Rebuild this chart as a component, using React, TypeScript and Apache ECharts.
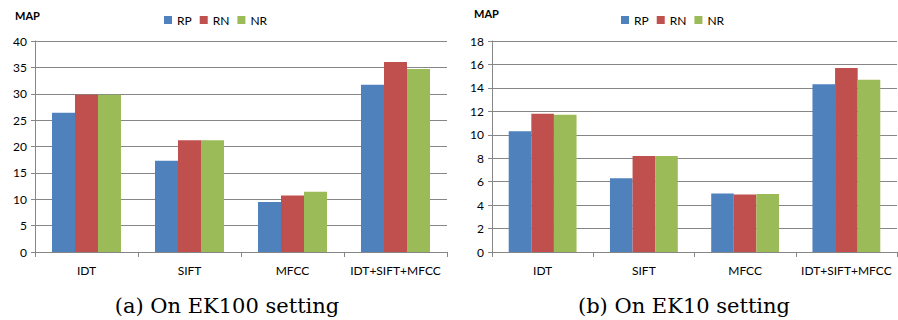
import React, { useEffect, useRef } from "react";
import * as echarts from "echarts";

const categories = ["IDT", "SIFT", "MFCC", "IDT+SIFT+MFCC"];
const seriesNames = ["RP", "RN", "NR"];
const colors = ["#4F81BD", "#C0504D", "#9BBB59"];

// EK100 setting
const ek100RP = [26.4, 17.3, 9.5, 31.7];
const ek100RN = [29.8, 21.2, 10.7, 36.0];
const ek100NR = [29.8, 21.2, 11.4, 34.7];

// EK10 setting
const ek10RP = [10.3, 6.3, 5.0, 14.3];
const ek10RN = [11.8, 8.2, 4.9, 15.7];
const ek10NR = [11.7, 8.2, 4.95, 14.7];

const captions = ["(a) On EK100 setting", "(b) On EK10 setting"];

const FONT = "Lato, 'Noto Sans', sans-serif";
const SERIF = "'DejaVu Serif', serif";
const AXIS_GRAY = "#868686";

export default function App() {
  const ref = useRef<HTMLDivElement>(null);

  useEffect(() => {
    document.body.style.margin = "0";
    const chart = echarts.init(ref.current!, undefined, { renderer: "svg" });

    const grids = [
      { left: 35, top: 41, width: 412, height: 211 },
      { left: 492, top: 41, width: 405, height: 211 },
    ];

    const xAxis = grids.map((_, i) => ({
      type: "category",
      gridIndex: i,
      data: categories,
      axisLine: { lineStyle: { color: AXIS_GRAY } },
      axisTick: { show: true, length: 5, lineStyle: { color: AXIS_GRAY } },
      axisLabel: { color: "#000", fontFamily: FONT, fontSize: 12, margin: 12, interval: 0 },
    }));

    const yRanges = [
      { max: 40, interval: 5 },
      { max: 18, interval: 2 },
    ];
    const yAxis = yRanges.map((r, i) => ({
      type: "value",
      gridIndex: i,
      min: 0,
      max: r.max,
      interval: r.interval,
      axisLine: { show: true, lineStyle: { color: AXIS_GRAY } },
      axisTick: { show: true, length: 4, lineStyle: { color: AXIS_GRAY } },
      axisLabel: { color: "#000", fontFamily: FONT, fontSize: 12, margin: 8 },
      splitLine: { lineStyle: { color: AXIS_GRAY, width: 1 } },
    }));

    const sets = [
      [ek100RP, ek100RN, ek100NR],
      [ek10RP, ek10RN, ek10NR],
    ];
    const series: any[] = [];
    sets.forEach((group, gi) => {
      group.forEach((vals, si) => {
        series.push({
          type: "bar",
          name: seriesNames[si],
          xAxisIndex: gi,
          yAxisIndex: gi,
          data: vals,
          barGap: "0%",
          barCategoryGap: "33%",
          itemStyle: { color: colors[si] },
        });
      });
    });

    const legendBase = {
      data: seriesNames,
      top: 9,
      itemWidth: 8,
      itemHeight: 8,
      itemGap: 8,
      icon: "rect",
      textStyle: { fontFamily: FONT, fontSize: 12, color: "#000" },
    };

    const caption = (text: string, x: number) => ({
      type: "text",
      x,
      y: 306,
      style: {
        text,
        fontFamily: SERIF,
        fontSize: 21,
        fill: "#000",
        align: "center",
        verticalAlign: "middle",
      },
    });

    chart.setOption({
      animation: false,
      color: colors,
      grid: grids,
      xAxis,
      yAxis,
      series,
      legend: [
        { ...legendBase, left: 159 },
        { ...legendBase, left: 616 },
      ],
      graphic: [
        {
          type: "text",
          left: 15,
          top: 10,
          style: { text: "MAP", fontFamily: FONT, fontSize: 11, fontWeight: "bold", fill: "#000" },
        },
        {
          type: "text",
          left: 474,
          top: 8,
          style: { text: "MAP", fontFamily: FONT, fontSize: 11, fontWeight: "bold", fill: "#000" },
        },
        caption(captions[0], 227),
        caption(captions[1], 684),
      ],
    });

    return () => chart.dispose();
  }, []);

  return <div ref={ref} style={{ width: 898, height: 320 }} />;
}
